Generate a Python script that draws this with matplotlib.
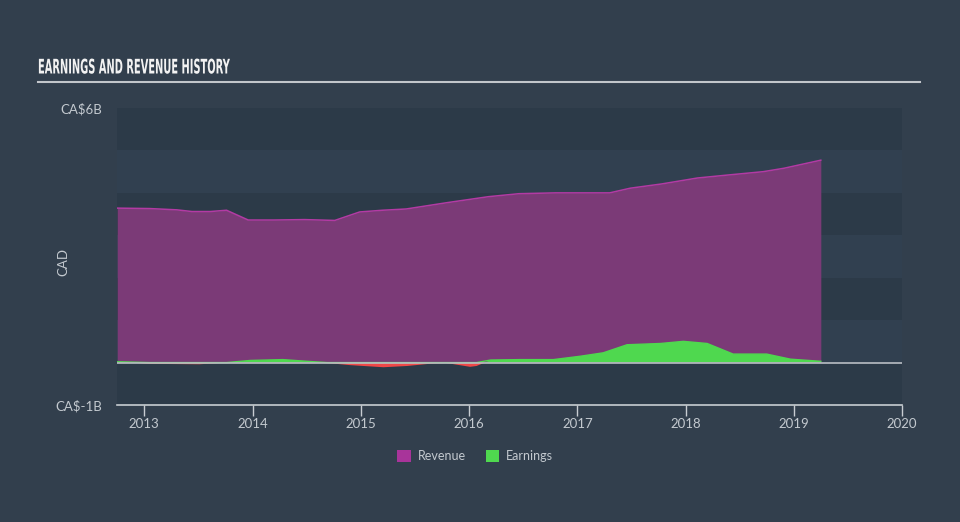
import matplotlib
matplotlib.use("Agg")
import matplotlib.pyplot as plt
import numpy as np
from matplotlib.patches import Patch
from matplotlib.patheffects import AbstractPathEffect
from matplotlib.transforms import Affine2D

# ---- data (CA$ billions) ----
rev_t = [2012.75, 2013.05, 2013.30, 2013.44, 2013.61, 2013.76, 2013.96, 2014.20, 2014.48,
         2014.76, 2014.99, 2015.20, 2015.42, 2015.80, 2016.18, 2016.46, 2016.80, 2017.30,
         2017.49, 2017.78, 2018.11, 2018.39, 2018.72, 2018.91, 2019.25]
rev_v = [3.64, 3.63, 3.60, 3.56, 3.56, 3.59, 3.36, 3.36, 3.37,
         3.35, 3.55, 3.59, 3.62, 3.77, 3.91, 3.98, 4.00, 4.00,
         4.11, 4.21, 4.35, 4.42, 4.50, 4.58, 4.77]

earn_t = [2012.75, 2013.05, 2013.51, 2013.76, 2013.98, 2014.28, 2014.50, 2014.69, 2014.90,
          2015.21, 2015.43, 2015.67, 2015.79, 2016.01, 2016.07, 2016.20, 2016.47, 2016.78,
          2017.03, 2017.24, 2017.46, 2017.77, 2017.98, 2018.20, 2018.44, 2018.75, 2018.97, 2019.25]
earn_v = [0.02, -0.03, -0.04, 0.00, 0.05, 0.07, 0.03, -0.01, -0.06,
          -0.11, -0.08, -0.02, -0.01, -0.10, -0.08, 0.06, 0.07, 0.07,
          0.15, 0.23, 0.42, 0.45, 0.50, 0.45, 0.20, 0.20, 0.08, 0.03]

year_ticks = [2013, 2014, 2015, 2016, 2017, 2018, 2019, 2020]
y_ticks = [6, -1]
y_tick_labels = ["CA$6B", "CA$-1B"]

# ---- style ----
FIG_BG = "#323f4d"
BAND_DARK = "#2c3a48"
BAND_LIGHT = "#314050"
REV_FILL = "#7b3a77"
REV_LINE = "#b33aa4"
EARN_POS = "#4fd84f"
EARN_NEG = "#f04848"
TXT = "#c3c9cf"
FONT = "Lato"


class HScale(AbstractPathEffect):
    """Horizontally condense rendered text about a display x origin."""
    def __init__(self, sx, x0):
        super().__init__()
        self.sx = sx
        self.x0 = x0

    def draw_path(self, renderer, gc, tpath, affine, rgbFace=None):
        aff = affine + Affine2D().translate(-self.x0, 0).scale(self.sx, 1).translate(self.x0, 0)
        renderer.draw_path(gc, tpath, aff, rgbFace)


fig = plt.figure(figsize=(9.6, 5.22), dpi=100, facecolor=FIG_BG)
ax = fig.add_axes([117/960, 1-405/522, (902-117)/960, (405-108)/522])
ax.set_facecolor(BAND_LIGHT)

for lo in range(-1, 6):
    ax.axhspan(lo, lo+1, color=BAND_DARK if (lo % 2 == 1 or lo == -1) else BAND_LIGHT,
               lw=0, zorder=0)

rt = np.array(rev_t); rv = np.array(rev_v)
et = np.array(earn_t); ev = np.array(earn_v)

ax.fill_between(rt, 0, rv, color=REV_FILL, lw=0, zorder=2)
ax.plot(rt, rv, color=REV_LINE, lw=1.1, zorder=3)

ax.fill_between(et, 0, ev, where=ev >= 0, interpolate=True, color=EARN_POS, lw=0, zorder=4)
ax.fill_between(et, 0, ev, where=ev <= 0, interpolate=True, color=EARN_NEG, lw=0, zorder=4)
ax.plot(et, np.clip(ev, 0, None), color=EARN_POS, lw=1.0, zorder=4)

ax.axhline(0, color="#b9bec4", lw=1.2, zorder=5)

ax.set_xlim(2012.748, 2020.0)
ax.set_ylim(-1, 6)

for s in ["top", "right", "left"]:
    ax.spines[s].set_visible(False)
ax.spines["bottom"].set_color("#c8cdd2")
ax.spines["bottom"].set_linewidth(1.2)

ax.set_xticks(year_ticks)
ax.set_xticklabels([str(y) for y in year_ticks], color=TXT, fontsize=9.5, fontfamily=FONT)
ax.tick_params(axis="x", length=8, width=1, color="#c8cdd2", pad=1)
ax.set_yticks(y_ticks)
ax.set_yticklabels(y_tick_labels, color=TXT, fontsize=9.5, fontfamily=FONT)
ax.tick_params(axis="y", length=0, pad=10.5)

fig.text(63/960, 1-262/522, "CAD", rotation=90, color=TXT, fontsize=9.5,
         fontfamily=FONT, ha="center", va="center")

title = fig.text(38/960, 1-68/522, "EARNINGS AND REVENUE HISTORY", color="#f2f2f2",
                 fontsize=14.5, fontweight="bold", fontfamily="DejaVu Sans",
                 ha="left", va="center")
title.set_path_effects([HScale(0.49, 38)])
fig.add_artist(plt.Line2D([38/960, 920/960], [1-82/522, 1-82/522], color="#c2c6cb", lw=1.5))

handles = [Patch(facecolor="#a8349a", edgecolor="none", label="Revenue"),
           Patch(facecolor=EARN_POS, edgecolor="none", label="Earnings")]
leg = fig.legend(handles=handles, loc="center", bbox_to_anchor=(475/960, 1-456/522), ncol=2,
                 frameon=False, handlelength=1.1, handleheight=1.1,
                 handletextpad=0.5, columnspacing=1.6, prop={"family": FONT, "size": 9})
for t in leg.get_texts():
    t.set_color(TXT)

fig.savefig("out.png", dpi=100, facecolor=FIG_BG)
